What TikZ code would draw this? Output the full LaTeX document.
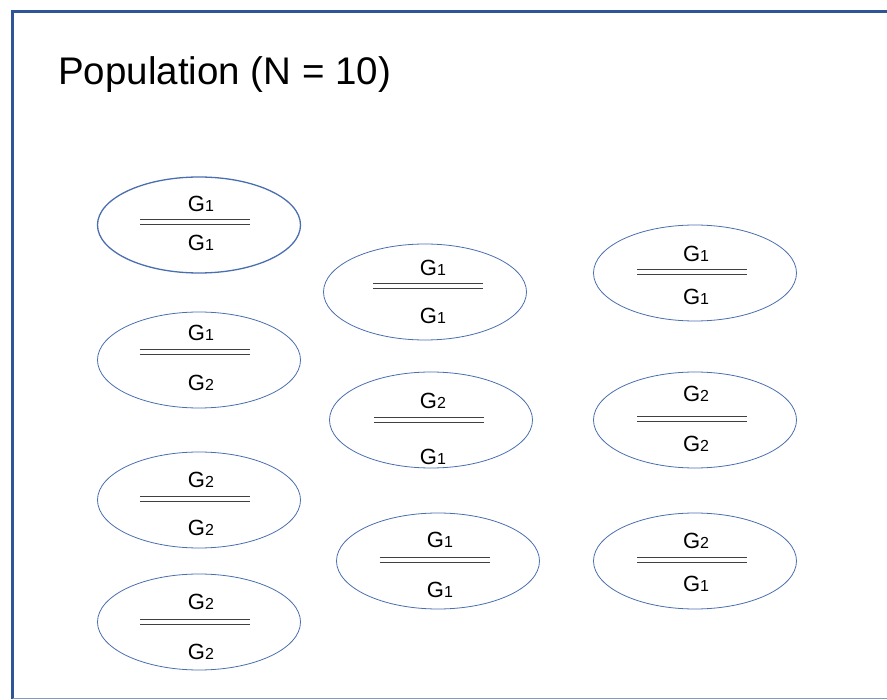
\documentclass[tikz,border=0pt]{standalone}
\usepackage{fontspec}
\setmainfont{Liberation Sans}
\usetikzlibrary{shapes.geometric}
\definecolor{framecol}{HTML}{2F5597}
\definecolor{ellcol}{HTML}{4A6FB0}
\definecolor{barcol}{HTML}{404040}
\newcommand{\gsub}[1]{G\fontsize{16}{16}\selectfont #1}
\tikzset{
  pop/.style={ellipse, draw=ellcol, line width=0.8pt, minimum width=203pt, minimum height=96pt, inner sep=0pt},
  gtxt/.style={font=\fontsize{22}{22}\selectfont, inner sep=0pt, anchor=center},
  bar/.style={draw=barcol, line width=1.6pt}
}
\begin{document}
\begin{tikzpicture}[x=1pt,y=-1pt]
\useasboundingbox (0,0) rectangle (887,700);
\fill[white] (0,0) rectangle (887,700);
% frame
\coordinate (ftl) at (12.5,11.5);
\coordinate (ftr) at (887,11.5);
\coordinate (fbl) at (12.5,698.5);
\coordinate (fbr) at (887,698.5);
\draw[framecol, line width=3.5pt] (ftr) -- (ftl) -- (fbl);
\draw[framecol!60, line width=1pt] (fbl) -- (fbr);
\node[anchor=base west, inner sep=0pt, font=\fontsize{38.5}{38.5}\selectfont] (title) at (58,85) {Population (N = 10)};
% n / ellipse cx / cy / top idx / top y / line y / bottom idx / bottom y / border width / line centre x / text centre x
\foreach \n/\cx/\cy/\ta/\ty/\ly/\ba/\by/\w/\lx/\tx in {
  1/199/225/1/204/222/1/243/1.3/195/201,
  2/199/360/1/333/352/2/383/0.8/195/201,
  3/199/500/2/480/499/2/528/0.8/195/201,
  4/199/622/2/602/622/2/652/0.8/195/201,
  5/425/292/1/268/286/1/316/0.8/428/433,
  6/431/420/2/401/420/1/457/0.8/429/433,
  7/438/561/1/540/560/1/590/0.8/435/440,
  8/695/273/1/254/272/1/297/0.8/692/696,
  9/695/420/2/394/419/2/444/0.8/692/696,
  10/695/561/2/541/560/1/584/0.8/692/696}{
  \node[pop, line width=\w pt] (e\n) at (\cx,\cy) {};
  \node[gtxt] (t\n) at (\tx,\ty) {\gsub{\ta}};
  \node[gtxt] (b\n) at (\tx,\by) {\gsub{\ba}};
  \coordinate (l\n a) at (\lx-55,\ly-2.5);
  \coordinate (l\n b) at (\lx+55,\ly-2.5);
  \coordinate (l\n c) at (\lx-55,\ly+2.5);
  \coordinate (l\n d) at (\lx+55,\ly+2.5);
  \draw[bar] (l\n a) -- (l\n b);
  \draw[bar] (l\n c) -- (l\n d);
}
\end{tikzpicture}
\end{document}
